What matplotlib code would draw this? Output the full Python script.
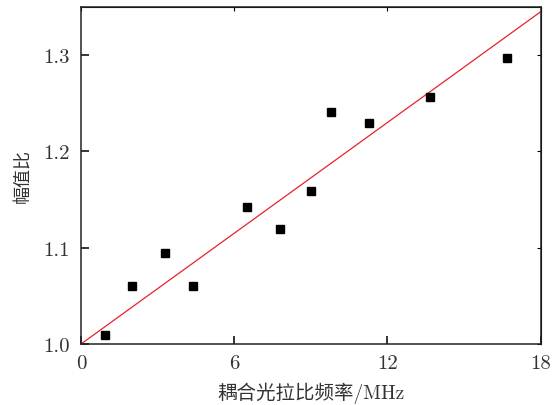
import matplotlib
matplotlib.use("Agg")
import matplotlib.pyplot as plt
import numpy as np

# data
freq = [0.95, 1.98, 3.29, 4.37, 6.49, 7.79, 8.99, 9.79, 11.29, 13.65, 16.69]
ratio = [1.009, 1.060, 1.094, 1.060, 1.142, 1.119, 1.159, 1.241, 1.229, 1.256, 1.297]
fit_x = [0, 18]
fit_y = [1.0, 1.3446]
xticks = [0, 6, 12, 18]
yticks = [1.0, 1.1, 1.2, 1.3]

plt.rcParams['axes.formatter.use_mathtext'] = True
plt.rcParams['mathtext.fontset'] = 'cm'

fig = plt.figure(figsize=(5.54, 4.06), dpi=100)
ax = fig.add_axes([0.1462, 0.1502, 0.976 - 0.1462, 0.9815 - 0.1502])

ax.plot(fit_x, fit_y, color='#e8222a', lw=0.9, zorder=2)
ax.plot(freq, ratio, 's', color='black', ms=6, zorder=3)

ax.set_xlim(0, 18)
ax.set_ylim(1.0, 1.35)
ax.set_xticks(xticks)
ax.set_yticks(yticks)
ax.set_xticklabels([str(v) for v in xticks], family=['cmr10'], fontsize=15, color='#333333')
ax.set_yticklabels([f"{v:.1f}" for v in yticks], family=['cmr10'], fontsize=15, color='#333333')
ax.tick_params(direction='in', length=6, width=1.1, pad=7)
ax.tick_params(axis='y', pad=8)

for s in ax.spines.values():
    s.set_linewidth(1.1)
    s.set_color('#222222')

sx = ax.secondary_xaxis('top')
sx.set_xticks(xticks)
sx.tick_params(direction='in', length=3, width=0.8, labeltop=False)
sy = ax.secondary_yaxis('right')
sy.set_yticks(yticks)
sy.tick_params(direction='in', length=3, width=0.8, labelright=False)

ax.set_xlabel('耦合光拉比频率/MHz', family=['cmr10', 'Noto Sans CJK SC'], fontsize=14, color='#333333', labelpad=7)
ax.set_ylabel('幅值比', family=['Noto Sans CJK SC'], fontsize=13, color='#333333', labelpad=8)

fig.savefig('out.png', dpi=100)
